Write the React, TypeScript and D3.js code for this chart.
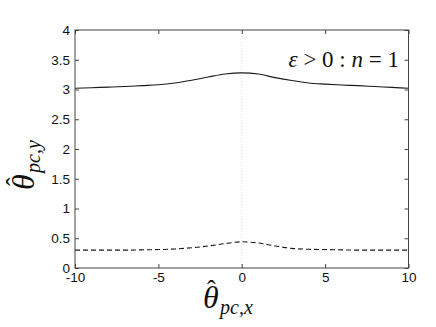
import { useRef, useEffect } from 'react';
import * as d3 from 'd3';

const xs = [-10, -9, -8, -7, -6, -5, -4, -3, -2, -1, 0, 1, 2, 3, 4, 5, 6, 7, 8, 9, 10];
const solidY = [3.02, 3.03, 3.04, 3.05, 3.065, 3.08, 3.11, 3.155, 3.21, 3.26, 3.28, 3.26, 3.2, 3.15, 3.11, 3.09, 3.075, 3.065, 3.05, 3.035, 3.02];
const dashedY = [0.3, 0.3, 0.3, 0.3, 0.305, 0.31, 0.32, 0.34, 0.37, 0.41, 0.44, 0.42, 0.37, 0.33, 0.315, 0.31, 0.305, 0.3, 0.3, 0.3, 0.3];
const xTicks = [-10, -5, 0, 5, 10];
const yTicks = [0, 0.5, 1, 1.5, 2, 2.5, 3, 3.5, 4];
// annotation pieces: [text, italic]
const annotationParts: [string, boolean][] = [
  ['ε', true],
  [' > 0 : ', false],
  ['n', true],
  [' = 1', false],
];

const SERIF = "'Liberation Serif', 'Times New Roman', serif";
const SANS = "'Liberation Sans', Arial, sans-serif";

const App = () => {
  const svgRef = useRef<SVGSVGElement>(null);

  useEffect(() => {
    const width = 436;
    const height = 327;
    const left = 75;
    const right = 408.5;
    const top = 30;
    const bottom = 268;

    const x = d3.scaleLinear([-10, 10], [left, right]);
    const y = d3.scaleLinear([0, 4], [bottom, top]);

    const svg = d3.select(svgRef.current);
    svg.selectAll('*').remove();
    svg.attr('width', width).attr('height', height);

    svg.append('rect').attr('width', width).attr('height', height).attr('fill', '#fff');

    // dotted vertical at x = 0
    svg
      .append('line')
      .attr('x1', x(0))
      .attr('x2', x(0))
      .attr('y1', top)
      .attr('y2', bottom)
      .attr('stroke', '#d8d8d8')
      .attr('stroke-dasharray', '1,2');

    const line = (ys: number[]) =>
      d3
        .line<number>()
        .curve(d3.curveMonotoneX)
        .x((_, i) => x(xs[i]))
        .y((d) => y(d))(ys);

    svg
      .append('path')
      .attr('d', line(solidY))
      .attr('fill', 'none')
      .attr('stroke', '#1a1a1a')
      .attr('stroke-width', 1.1);

    svg
      .append('path')
      .attr('d', line(dashedY))
      .attr('fill', 'none')
      .attr('stroke', '#1a1a1a')
      .attr('stroke-width', 1.1)
      .attr('stroke-dasharray', '5,3');

    // frame
    svg
      .append('rect')
      .attr('x', left)
      .attr('y', top)
      .attr('width', right - left)
      .attr('height', bottom - top)
      .attr('fill', 'none')
      .attr('stroke', '#444')
      .attr('stroke-width', 1);

    const tickLen = 4;
    const axStyle = (g) =>
      g
        .attr('font-family', SANS)
        .attr('font-size', 13.5)
        .call((g) => g.select('.domain').remove())
        .call((g) => g.selectAll('.tick line').attr('stroke', '#444'))
        .call((g) => g.selectAll('.tick text').attr('fill', '#111'));

    svg
      .append('g')
      .attr('transform', `translate(0,${bottom})`)
      .call(d3.axisBottom(x).tickValues(xTicks).tickSize(-tickLen).tickPadding(4).tickFormat((d) => String(d)))
      .call(axStyle);
    svg
      .append('g')
      .attr('transform', `translate(0,${top})`)
      .call(d3.axisTop(x).tickValues(xTicks).tickSize(-tickLen).tickFormat(() => ''))
      .call(axStyle);
    svg
      .append('g')
      .attr('transform', `translate(${left},0)`)
      .call(d3.axisLeft(y).tickValues(yTicks).tickSize(-tickLen).tickPadding(5).tickFormat((d) => String(d)))
      .call(axStyle);
    svg
      .append('g')
      .attr('transform', `translate(${right},0)`)
      .call(d3.axisRight(y).tickValues(yTicks).tickSize(-tickLen).tickFormat(() => ''))
      .call(axStyle);

    // annotation
    const ann = svg
      .append('text')
      .attr('x', 399)
      .attr('y', 67)
      .attr('text-anchor', 'end')
      .attr('font-family', SERIF)
      .attr('font-size', 23)
      .attr('fill', '#111')
      .attr('xml:space', 'preserve')
      .style('white-space', 'pre');
    annotationParts.forEach(([t, it]) => {
      ann.append('tspan').attr('font-style', it ? 'italic' : 'normal').text(t);
    });

    const thetaLabel = (g, sub: string) => {
      g.append('text')
        .attr('font-family', SERIF)
        .attr('font-style', 'italic')
        .attr('font-size', 32)
        .attr('fill', '#111')
        .text('θ');
      g.append('text')
        .attr('x', 4)
        .attr('y', -10)
        .attr('font-family', SERIF)
        .attr('font-size', 26)
        .attr('fill', '#111')
        .text('ˆ');
      g.append('text')
        .attr('x', 17)
        .attr('y', 6)
        .attr('font-family', SERIF)
        .attr('font-style', 'italic')
        .attr('font-size', 20)
        .attr('fill', '#111')
        .text(sub);
    };

    svg.append('g').attr('transform', 'translate(203,308)').call((g) => thetaLabel(g, 'pc,x'));
    svg.append('g').attr('transform', 'translate(34,190) rotate(-90)').call((g) => thetaLabel(g, 'pc,y'));
  }, []);

  return <svg ref={svgRef} style={{ display: 'block', position: 'absolute', left: 0, top: 0 }} />;
};

export default App;
